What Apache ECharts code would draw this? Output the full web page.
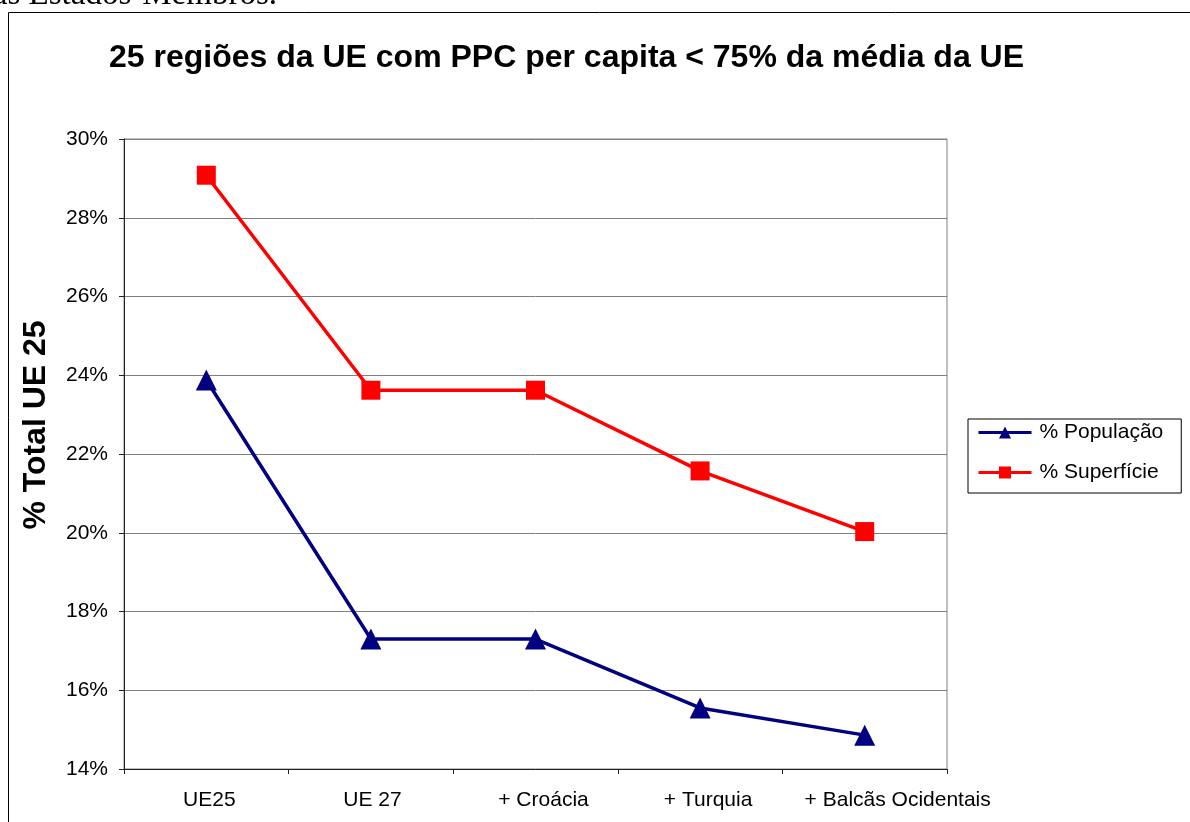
<!DOCTYPE html>
<html>
<head>
<meta charset="utf-8">
<script src="https://cdn.jsdelivr.net/npm/echarts@6/dist/echarts.min.js"></script>
<style>
html,body{margin:0;padding:0;background:#fff;}
#chart{width:1190px;height:822px;}
</style>
</head>
<body>
<div id="chart"></div>
<script>
// ---- data ----
var categories = ['UE25', 'UE 27', '+ Croácia', '+ Turquia', '+ Balcãs Ocidentais'];
var populacao = [23.88, 17.3, 17.3, 15.55, 14.86];
var superficie = [29.08, 23.62, 23.62, 21.57, 20.03];
var seriesNames = ['% População', '% Superfície'];
var yTicks = {min: 14, max: 30, step: 2};
var titleText = '25 regiões da UE com PPC per capita < 75% da média da UE';
var yAxisTitle = '% Total UE 25';
var topText = 'das Estados-Membros.';

// ---- styling ----
var FONT = 'Arial, "Liberation Sans", sans-serif';
var labelShift = [6, 3, 16, 16, 66]; // Excel-like label placement offsets (px of left padding)
var rich = {};
labelShift.forEach(function (p, i) {
  rich['c' + i] = {fontFamily: FONT, fontSize: 21, color: '#000', padding: [0, 0, 0, p]};
});

var chart = echarts.init(document.getElementById('chart'), null, {renderer: 'canvas'});
chart.setOption({
  backgroundColor: '#fff',
  animation: false,
  title: {
    text: titleText,
    left: 104,
    top: 37,
    textStyle: {fontFamily: FONT, fontSize: 32, fontWeight: 'bold', color: '#000'}
  },
  grid: {
    left: 124, top: 139, right: 243, bottom: 53,
    show: true, borderColor: '#808080', borderWidth: 1, backgroundColor: 'transparent'
  },
  legend: {
    orient: 'vertical',
    left: 968, top: 419,
    padding: [3, 18, 10, 9],
    itemGap: 19,
    itemWidth: 53, itemHeight: 15,
    borderColor: '#000', borderWidth: 1,
    lineStyle: {width: 3},
    textStyle: {fontFamily: FONT, fontSize: 21, color: '#000', padding: [0, 0, 0, 3]},
    data: seriesNames
  },
  xAxis: {
    type: 'category',
    data: categories,
    boundaryGap: true,
    axisLine: {lineStyle: {color: '#222', width: 1}},
    axisTick: {show: true, length: 5, alignWithLabel: false, interval: 0, lineStyle: {color: '#222'}},
    axisLabel: {
      interval: 0, margin: 21, fontFamily: FONT, fontSize: 21, color: '#000',
      formatter: function (v, i) { return '{c' + i + '|' + v + '}'; },
      rich: rich
    },
    splitLine: {show: false}
  },
  yAxis: {
    type: 'value',
    min: yTicks.min, max: yTicks.max, interval: yTicks.step,
    axisLine: {show: true, lineStyle: {color: '#222', width: 1}},
    axisTick: {show: true, length: 5, lineStyle: {color: '#222'}},
    axisLabel: {margin: 16, fontFamily: FONT, fontSize: 21, color: '#000', formatter: '{value}%'},
    splitLine: {show: true, lineStyle: {color: '#808080', width: 1}}
  },
  series: [
    {
      name: seriesNames[0], type: 'line', data: populacao,
      symbol: 'triangle', symbolSize: [21, 21],
      lineStyle: {color: '#000080', width: 3.5},
      itemStyle: {color: '#000080'},
      z: 3
    },
    {
      name: seriesNames[1], type: 'line', data: superficie,
      symbol: 'rect', symbolSize: 19,
      lineStyle: {color: '#FF0000', width: 3.5},
      itemStyle: {color: '#FF0000'},
      z: 3
    }
  ],
  graphic: [
    {
      type: 'rect', silent: true, z: -1,
      shape: {x: 8.5, y: 12.5, width: 1200, height: 900},
      style: {fill: 'none', stroke: '#000', lineWidth: 1}
    },
    {
      type: 'text', silent: true,
      x: 277, y: -5,
      style: {text: topText, font: '33px "Liberation Serif", "Times New Roman", serif', fill: '#000',
              textAlign: 'right', textVerticalAlign: 'middle'}
    },
    {
      type: 'text', silent: true,
      x: 36, y: 425, rotation: Math.PI / 2,
      style: {text: yAxisTitle, font: 'bold 32px Arial, "Liberation Sans", sans-serif', fill: '#000',
              textAlign: 'center', textVerticalAlign: 'middle'}
    }
  ]
});
</script>
</body>
</html>
